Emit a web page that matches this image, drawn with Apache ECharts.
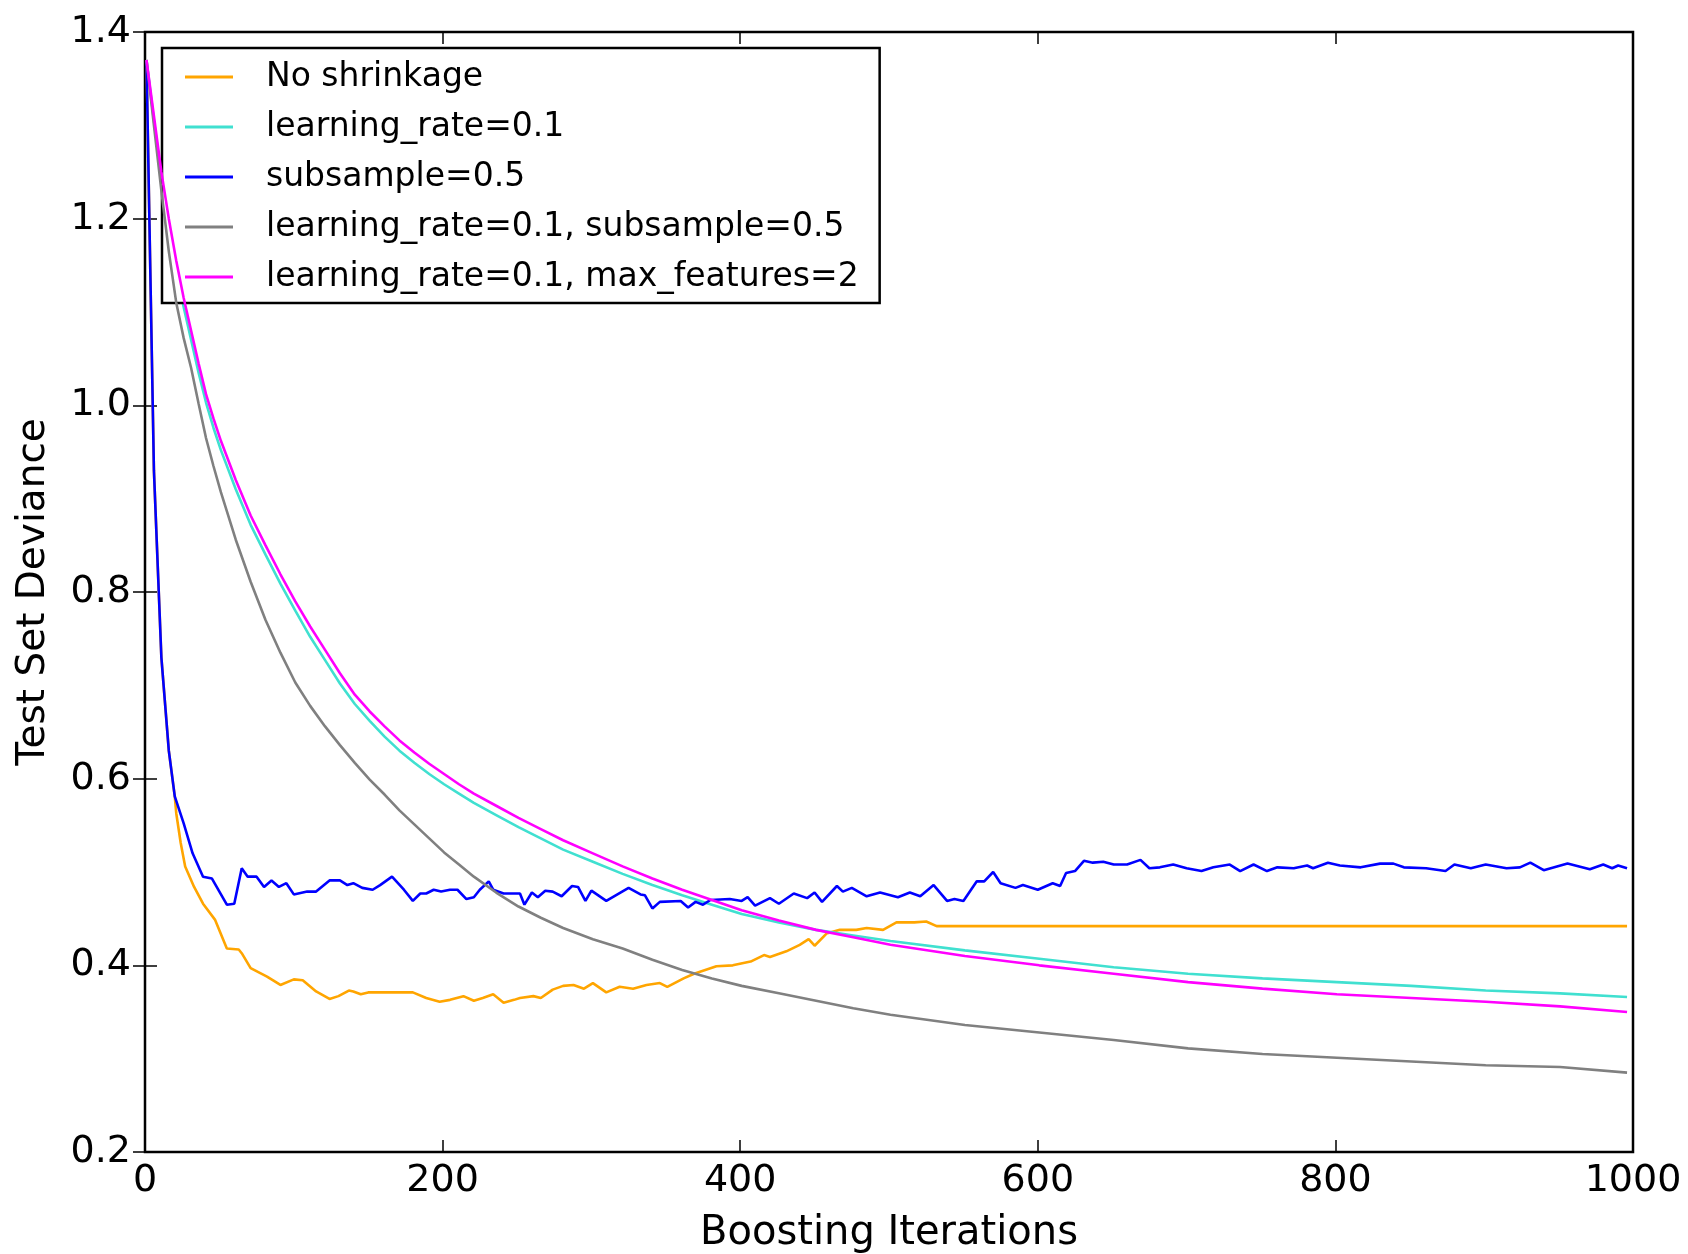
<!DOCTYPE html>
<html>
<head>
<meta charset="utf-8">
<title>Gradient Boosting regularization</title>
<script src="https://cdn.jsdelivr.net/npm/echarts@6/dist/echarts.min.js"></script>
<style>
  html, body { margin: 0; padding: 0; background: #fff; }
  #chart { width: 1688px; height: 1254px; }
</style>
</head>
<body>
<div id="chart"></div>
<script>
// Test-set deviance per boosting iteration for five regularization settings.

const seriesNames = [
  'No shrinkage',
  'learning_rate=0.1',
  'subsample=0.5',
  'learning_rate=0.1, subsample=0.5',
  'learning_rate=0.1, max_features=2'
];

const xTicks = [0, 200, 400, 600, 800, 1000];
const yTicks = [0.2, 0.4, 0.6, 0.8, 1.0, 1.2, 1.4];

// No shrinkage
const noShrinkIters = [1, 6, 11, 16, 20, 21, 24, 27, 33, 39, 47, 55, 63, 65, 71, 82, 91, 100, 106, 115,
  124, 130, 137, 140, 145, 150, 167, 180, 189, 198, 205, 214, 221, 227, 234, 241, 248, 252, 261, 266,
  274, 281, 288, 295, 301, 310, 319, 328, 337, 346, 351, 362, 369, 384, 395, 407, 416, 420, 431, 440,
  446, 450, 458, 467, 478, 485, 496, 505, 517, 525, 532, 996];
const noShrinkDeviance = [1.37, 0.93, 0.73, 0.63, 0.581, 0.563, 0.531, 0.506, 0.484, 0.466, 0.449, 0.418, 0.417, 0.413, 0.397, 0.388, 0.379, 0.385, 0.384, 0.372,
  0.364, 0.367, 0.373, 0.372, 0.369, 0.371, 0.371, 0.371, 0.365, 0.361, 0.363, 0.367, 0.362, 0.365, 0.369, 0.360, 0.363, 0.365, 0.367, 0.365,
  0.374, 0.378, 0.379, 0.375, 0.381, 0.371, 0.377, 0.375, 0.379, 0.381, 0.377, 0.386, 0.391, 0.399, 0.400, 0.404, 0.411, 0.409, 0.415, 0.422,
  0.428, 0.421, 0.434, 0.438, 0.438, 0.440, 0.438, 0.446, 0.446, 0.447, 0.442, 0.442];

// subsample=0.5
const subsampleIters = [1, 6, 11, 16, 20, 26, 32, 39, 45, 55, 60, 65, 69, 75, 80, 85, 90, 95, 100, 109,
  115, 124, 131, 136, 140, 146, 153, 158, 166, 174, 180, 185, 189, 194, 199, 205, 210, 216, 221, 225,
  231, 234, 241, 248, 252, 255, 260, 264, 269, 274, 280, 287, 291, 296, 300, 310, 325, 333, 336, 341,
  346, 360, 365, 370, 375, 380, 393, 401, 405, 410, 420, 426, 436, 445, 450, 455, 465, 469, 475, 485,
  494, 506, 514, 521, 530, 539, 544, 550, 559, 564, 570, 575, 585, 590, 600, 610, 615, 619, 625, 631,
  637, 644, 651, 660, 669, 675, 682, 691, 700, 710, 718, 729, 736, 745, 754, 761, 772, 781, 785, 795,
  803, 817, 830, 839, 846, 861, 874, 880, 891, 901, 915, 924, 931, 940, 956, 971, 980, 986, 990, 996];
const subsampleDeviance = [1.37, 0.93, 0.73, 0.63, 0.581, 0.552, 0.520, 0.495, 0.493, 0.465, 0.466, 0.504, 0.495, 0.495, 0.484, 0.491, 0.484, 0.488, 0.476, 0.479,
  0.479, 0.491, 0.491, 0.486, 0.488, 0.483, 0.481, 0.486, 0.495, 0.481, 0.469, 0.477, 0.477, 0.481, 0.479, 0.481, 0.481, 0.471, 0.473, 0.481,
  0.490, 0.481, 0.477, 0.477, 0.477, 0.465, 0.478, 0.473, 0.480, 0.479, 0.474, 0.485, 0.484, 0.469, 0.480, 0.469, 0.483, 0.476, 0.475, 0.461,
  0.468, 0.469, 0.462, 0.468, 0.465, 0.470, 0.471, 0.469, 0.473, 0.464, 0.472, 0.466, 0.477, 0.472, 0.478, 0.468, 0.485, 0.479, 0.483, 0.474,
  0.478, 0.473, 0.478, 0.474, 0.486, 0.469, 0.471, 0.469, 0.490, 0.490, 0.500, 0.488, 0.483, 0.486, 0.481, 0.488, 0.485, 0.499, 0.501, 0.512,
  0.510, 0.511, 0.508, 0.508, 0.513, 0.504, 0.505, 0.508, 0.504, 0.501, 0.505, 0.508, 0.501, 0.508, 0.501, 0.505, 0.504, 0.507, 0.504, 0.510,
  0.507, 0.505, 0.509, 0.509, 0.505, 0.504, 0.501, 0.508, 0.504, 0.508, 0.504, 0.505, 0.510, 0.502, 0.509, 0.503, 0.508, 0.504, 0.507, 0.504];

// the three shrinkage runs share one iteration grid
const smoothIters = [1, 6, 11, 16, 21, 26, 31, 36, 41, 46, 51, 61, 71, 81, 91, 101, 111, 121, 131, 141,
  151, 161, 171, 181, 191, 201, 211, 221, 236, 251, 266, 281, 301, 321, 341, 361, 381, 401, 426, 451,
  476, 501, 551, 601, 651, 701, 751, 801, 851, 901, 951, 996];
const lrDeviance = [1.37, 1.305, 1.245, 1.19, 1.145, 1.105, 1.07, 1.035, 1.003, 0.976, 0.952, 0.91, 0.872, 0.84, 0.809, 0.78, 0.752, 0.727, 0.702, 0.68,
  0.662, 0.645, 0.63, 0.617, 0.605, 0.594, 0.584, 0.574, 0.561, 0.548, 0.536, 0.524, 0.511, 0.498, 0.486, 0.475, 0.465, 0.455, 0.446, 0.438,
  0.432, 0.426, 0.416, 0.407, 0.398, 0.391, 0.386, 0.382, 0.378, 0.373, 0.370, 0.366];
const lrSubsampleDeviance = [1.37, 1.30, 1.23, 1.165, 1.11, 1.072, 1.04, 1.002, 0.965, 0.935, 0.907, 0.856, 0.811, 0.770, 0.735, 0.703, 0.678, 0.656, 0.636, 0.617,
  0.599, 0.583, 0.566, 0.551, 0.536, 0.521, 0.508, 0.495, 0.478, 0.463, 0.451, 0.440, 0.428, 0.418, 0.406, 0.395, 0.386, 0.378, 0.370, 0.362,
  0.354, 0.347, 0.336, 0.328, 0.320, 0.311, 0.305, 0.301, 0.297, 0.293, 0.291, 0.285];
const lrMaxFeatDeviance = [1.37, 1.31, 1.25, 1.20, 1.155, 1.115, 1.08, 1.045, 1.012, 0.986, 0.962, 0.92, 0.882, 0.85, 0.819, 0.79, 0.763, 0.738, 0.713, 0.69,
  0.672, 0.656, 0.641, 0.628, 0.616, 0.605, 0.594, 0.584, 0.571, 0.558, 0.546, 0.534, 0.520, 0.506, 0.493, 0.481, 0.470, 0.459, 0.448, 0.438,
  0.430, 0.422, 0.410, 0.400, 0.391, 0.382, 0.375, 0.369, 0.365, 0.361, 0.356, 0.350];

const colors = ['#FFA500', '#40E0D0', '#0000FF', '#808080', '#FF00FF'];

const pair = (xs, ys) => xs.map((x, i) => [x, ys[i]]);
const seriesData = [
  pair(noShrinkIters, noShrinkDeviance),
  pair(smoothIters, lrDeviance),
  pair(subsampleIters, subsampleDeviance),
  pair(smoothIters, lrSubsampleDeviance),
  pair(smoothIters, lrMaxFeatDeviance)
];

const FONT = 'DejaVu Sans';
const chart = echarts.init(document.getElementById('chart'), null, { renderer: 'canvas' });

const tickStyle = { show: true, inside: true, length: 12, lineStyle: { color: '#000', width: 1.5 } };
const xCommon = {
  type: 'value',
  min: xTicks[0],
  max: xTicks[xTicks.length - 1],
  interval: xTicks[1] - xTicks[0],
  splitLine: { show: false },
  axisLine: { show: false },
  axisTick: tickStyle
};
const yCommon = {
  type: 'value',
  min: yTicks[0],
  max: yTicks[yTicks.length - 1],
  interval: 0.2,
  splitLine: { show: false },
  axisLine: { show: false },
  axisTick: tickStyle
};

chart.setOption({
  animation: false,
  backgroundColor: '#ffffff',
  grid: {
    left: 145, top: 32, right: 55, bottom: 102,
    outerBoundsMode: 'none',
    containLabel: false,
    show: true, borderColor: '#000', borderWidth: 2.5, backgroundColor: 'transparent'
  },
  legend: {
    orient: 'vertical',
    left: 162,
    top: 48,
    padding: [9, 21, 6, 23],
    itemGap: 10,
    itemWidth: 48,
    itemHeight: 3,
    icon: 'rect',
    borderColor: '#000',
    borderWidth: 2.5,
    backgroundColor: '#fff',
    textStyle: { fontFamily: FONT, fontSize: 33, color: '#000', lineHeight: 40, padding: [0, 0, 0, 28] },
    data: seriesNames
  },
  xAxis: [
    Object.assign({}, xCommon, {
      position: 'bottom',
      name: 'Boosting Iterations',
      nameLocation: 'middle',
      nameGap: 62,
      nameTextStyle: { fontFamily: FONT, fontSize: 40, color: '#000' },
      axisLabel: { show: true, margin: 10, fontFamily: FONT, fontSize: 38, color: '#000',
        formatter: v => String(v) }
    }),
    Object.assign({}, xCommon, { position: 'top', axisLabel: { show: false } })
  ],
  yAxis: [
    Object.assign({}, yCommon, {
      position: 'left',
      name: 'Test Set Deviance',
      nameLocation: 'middle',
      nameGap: 92,
      nameTextStyle: { fontFamily: FONT, fontSize: 39, color: '#000' },
      axisLabel: { show: true, margin: 14, fontFamily: FONT, fontSize: 38, color: '#000',
        formatter: v => v.toFixed(1) }
    }),
    Object.assign({}, yCommon, { position: 'right', axisLabel: { show: false } })
  ],
  series: seriesNames.map((name, i) => ({
    name: name,
    type: 'line',
    xAxisIndex: 0,
    yAxisIndex: 0,
    data: seriesData[i],
    showSymbol: false,
    symbol: 'none',
    color: colors[i],
    lineStyle: { color: colors[i], width: 2.6 },
    emphasis: { disabled: true },
    z: 2 + i
  }))
});
</script>
</body>
</html>
